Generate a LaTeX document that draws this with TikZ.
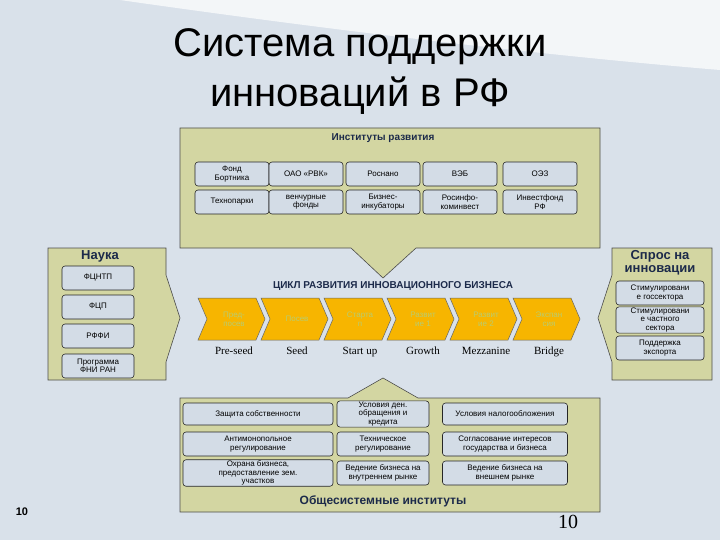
\documentclass[tikz,border=0pt]{standalone}
\usepackage{fontspec}
\setmainfont{Liberation Sans}
\newfontfamily\serifx{Liberation Serif}
\definecolor{bg}{HTML}{D9E1EA}
\definecolor{khaki}{HTML}{D3D6A2}
\definecolor{ibox}{HTML}{D3DCE6}
\definecolor{gold}{HTML}{F7B500}
\definecolor{navy}{HTML}{1C2A4A}
\definecolor{pale}{HTML}{B8CC70}
\tikzset{
 panel/.style={draw=black!70,fill=khaki,line width=0.6pt},
 ib/.style={draw=black!85,fill=ibox,rounded corners=3pt,line width=0.6pt,align=center,font=\fontsize{8}{8.5}\selectfont,inner sep=1pt},
 chevfill/.style={fill=gold,draw=black!60,line width=0.5pt},
 chevtxt/.style={align=center,font=\fontsize{8}{9}\selectfont,text=pale},
 stage/.style={font=\serifx\fontsize{11}{12}\selectfont,anchor=base},
 hdr/.style={font=\bfseries\fontsize{13}{13}\selectfont,text=navy,align=center}
}
\begin{document}
\begin{tikzpicture}[x=1pt,y=-1pt]
\useasboundingbox (0,0) rectangle (720,540);
\fill[bg] (0,0) rectangle (720,540);
\fill[white,opacity=0.7] (120,0) .. controls (400,40) and (600,60) .. (720,70) -- (720,0) -- cycle;
\node[font=\fontsize{40}{50}\selectfont,align=center,text=black] (title) at (360,72) {Система поддержки\\инноваций в РФ};
% top panel
\draw[panel] (180,128) -- (600,128) -- (600,248) -- (416,248) -- (383,278) -- (351,248) -- (180,248) -- cycle;
\node[font=\bfseries\fontsize{10}{10}\selectfont,text=navy] (tt) at (383,138) {Институты развития};
\foreach \n/\x/\t in {a1/232/{Фонд\\Бортника},a2/306/{ОАО «РВК»},a3/383/{Роснано},a4/460/{ВЭБ},a5/540/{ОЭЗ}}
  \node[ib,minimum width=74pt,minimum height=24pt] (\n) at (\x,174) {\t};
\foreach \n/\x/\t in {b1/232/{Технопарки},b2/306/{венчурные\\фонды},b3/383/{Бизнес-\\инкубаторы},b4/460/{Росинфо-\\коминвест},b5/540/{Инвестфонд\\РФ}}
  \node[ib,minimum width=74pt,minimum height=24pt] (\n) at (\x,202) {\t};
% left panel
\draw[panel] (48,248) -- (166,248) -- (166,275) -- (180,318) -- (166,362) -- (166,380) -- (48,380) -- cycle;
\node[hdr] (nauka) at (100,256) {Наука};
\foreach \n/\y/\t in {l1/278/{ФЦНТП},l2/307/{ФЦП},l3/336/{РФФИ},l4/366/{Программа\\ФНИ РАН}}
  \node[ib,minimum width=72pt,minimum height=24pt] (\n) at (98,\y) {\t};
% right panel
\draw[panel] (612,248) -- (712,248) -- (712,380) -- (612,380) -- (612,362) -- (598,318) -- (612,275) -- cycle;
\node[hdr] (spros) at (660,263) {Спрос на\\инновации};
\foreach \n/\y/\t in {r1/293/{Стимулировани\\е госсектора},r2/320/{Стимулировани\\е частного\\сектора},r3/348/{Поддержка\\экспорта}}
  \node[ib,minimum width=88pt,minimum height=24pt] (\n) at (660,\y) {\t};
% bottom panel
\draw[panel] (180,512) -- (600,512) -- (600,398) -- (418,398) -- (383,378) -- (348,398) -- (180,398) -- cycle;
\foreach \n/\x/\w/\t in {c1/258/150/{Защита собственности},c2/383/92/{Условия ден.\\обращения и\\кредита},c3/505/125/{Условия налогообложения}}
  \node[ib,minimum width=\w pt,minimum height=22pt] (\n) at (\x,414) {\t};
\foreach \n/\x/\w/\t in {d1/258/150/{Антимонопольное\\регулирование},d2/383/92/{Техническое\\регулирование},d3/505/125/{Согласование интересов\\государства и бизнеса}}
  \node[ib,minimum width=\w pt,minimum height=24pt] (\n) at (\x,444) {\t};
\foreach \n/\x/\w/\t in {e1/258/150/{Охрана бизнеса,\\предоставление зем.\\участков},e2/383/92/{Ведение бизнеса на\\внутреннем рынке},e3/505/125/{Ведение бизнеса на\\внешнем рынке}}
  \node[ib,minimum width=\w pt,minimum height=24pt] (\n) at (\x,473) {\t};
\node[font=\bfseries\fontsize{12}{12}\selectfont,text=navy] (obs) at (383,501) {Общесистемные институты};
% cycle
\node[font=\fontsize{10}{10}\selectfont\bfseries,text=navy] (cyc) at (393,286) {ЦИКЛ РАЗВИТИЯ ИННОВАЦИОННОГО БИЗНЕСА};
\foreach \n/\i/\t/\s in {s1/0/{Пред-\\посев}/Pre-seed,s2/1/{Посев}/Seed,s3/2/{Старта\\п}/Start up,s4/3/{Развит\\ие 1}/Growth,s5/4/{Развит\\ие 2}/Mezzanine,s6/5/{Экспан\\сия}/Bridge}{
  \draw[chevfill] (198+\i*63,298) -- ++(58,0) -- ++(9,21) -- ++(-9,21) -- ++(-58,0) -- ++(9,-21) -- cycle;
  \node[chevtxt] (\n) at (234+\i*63,319) {\t};
  \node[stage] (\n l) at (234+\i*63,354) {\s};
}
\node[font=\bfseries\fontsize{11}{11}\selectfont] (p1) at (22,512) {10};
\node[font=\serifx\fontsize{20}{20}\selectfont] (p2) at (568,522) {10};
\end{tikzpicture}
\end{document}
